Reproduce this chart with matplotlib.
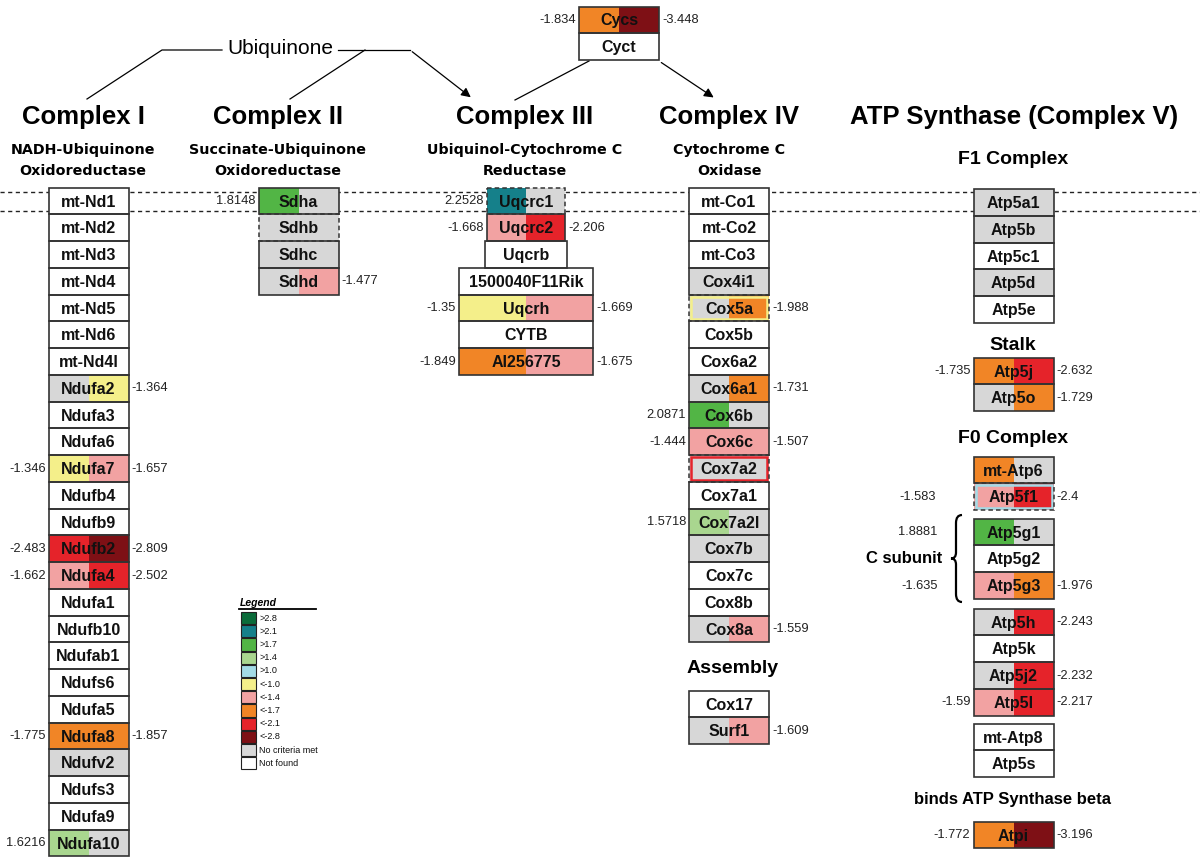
import matplotlib
matplotlib.use('Agg')
import matplotlib.pyplot as plt
from matplotlib.patches import Rectangle, PathPatch
from matplotlib.path import Path
from matplotlib import font_manager

# legend categories and colours
legend_labels = ['>2.8', '>2.1', '>1.7', '>1.4', '>1.0', '<-1.0', '<-1.4',
                 '<-1.7', '<-2.1', '<-2.8', 'No criteria met', 'Not found']
legend_colors = ['#0b6b3a', '#15808a', '#52b545', '#a9d68f', '#a3dbe6', '#f4ef8a',
                 '#f2a2a2', '#f18526', '#e5232a', '#7e1015', '#d7d7d7', '#ffffff']

NC = 'No criteria met'   # grey half
NF = None                # white half (not found)

# Complex I
c1_genes = ['mt-Nd1', 'mt-Nd2', 'mt-Nd3', 'mt-Nd4', 'mt-Nd5', 'mt-Nd6', 'mt-Nd4l',
            'Ndufa2', 'Ndufa3', 'Ndufa6', 'Ndufa7', 'Ndufb4', 'Ndufb9', 'Ndufb2',
            'Ndufa4', 'Ndufa1', 'Ndufb10', 'Ndufab1', 'Ndufs6', 'Ndufa5', 'Ndufa8',
            'Ndufv2', 'Ndufs3', 'Ndufa9', 'Ndufa10']
c1_left = [NF, NF, NF, NF, NF, NF, NF, NC, NF, NF, -1.346, NF, NF, -2.483,
           -1.662, NF, NF, NF, NF, NF, -1.775, NC, NF, NF, 1.6216]
c1_right = [NF, NF, NF, NF, NF, NF, NF, -1.364, NF, NF, -1.657, NF, NF, -2.809,
            -2.502, NF, NF, NF, NF, NF, -1.857, NC, NF, NF, NC]

# Complex II
c2_genes = ['Sdha', 'Sdhb', 'Sdhc', 'Sdhd']
c2_left = [1.8148, NC, NC, NC]
c2_right = [NC, NC, NC, -1.477]

# Complex III
c3_genes = ['Uqcrc1', 'Uqcrc2', 'Uqcrb', '1500040F11Rik', 'Uqcrh', 'CYTB', 'AI256775']
c3_left = [2.2528, -1.668, NF, NF, -1.35, NF, -1.849]
c3_right = [NC, -2.206, NF, NF, -1.669, NF, -1.675]

# Complex IV
c4_genes = ['mt-Co1', 'mt-Co2', 'mt-Co3', 'Cox4i1', 'Cox5a', 'Cox5b', 'Cox6a2',
            'Cox6a1', 'Cox6b', 'Cox6c', 'Cox7a2', 'Cox7a1', 'Cox7a2l', 'Cox7b',
            'Cox7c', 'Cox8b', 'Cox8a']
c4_left = [NF, NF, NF, NC, NC, NF, NF, NC, 2.0871, -1.444, NC, NF, 1.5718, NC,
           NF, NF, NC]
c4_right = [NF, NF, NF, NC, -1.988, NF, NF, -1.731, NC, -1.507, NC, NF, NC, NC,
            NF, NF, -1.559]

asm_genes = ['Cox17', 'Surf1']
asm_left = [NF, NC]
asm_right = [NF, -1.609]

# Complex V
f1_genes = ['Atp5a1', 'Atp5b', 'Atp5c1', 'Atp5d', 'Atp5e']
f1_left = [NC, NC, NF, NC, NF]
f1_right = [NC, NC, NF, NC, NF]

stalk_genes = ['Atp5j', 'Atp5o']
stalk_left = [-1.735, NC]
stalk_right = [-2.632, -1.729]

f0a_genes = ['mt-Atp6', 'Atp5f1']
f0a_left = ['<-1.7', -1.583]
f0a_right = [NC, -2.4]

csub_genes = ['Atp5g1', 'Atp5g2', 'Atp5g3']
csub_left = [1.8881, NF, -1.635]
csub_right = [NC, NF, -1.976]

f0b_genes = ['Atp5h', 'Atp5k', 'Atp5j2', 'Atp5l']
f0b_left = [NC, NF, NC, -1.59]
f0b_right = [-2.243, NF, -2.232, -2.217]

f0c_genes = ['mt-Atp8', 'Atp5s']
f0c_left = [NF, NF]
f0c_right = [NF, NF]

atpi_genes = ['Atpi']
atpi_left = [-1.772]
atpi_right = [-3.196]

cyc_genes = ['Cycs', 'Cyct']
cyc_left = [-1.834, NF]
cyc_right = [-3.448, NF]

# boxes drawn with a dashed outline and a coloured inner frame
special_borders = {'Sdhb': None, 'Uqcrc1': None, 'Cox5a': '#f4ef8a',
                   'Cox7a2': '#e5232a', 'Atp5f1': '#a3dbe6'}

ROW = 26.75
installed = set(f.name for f in font_manager.fontManager.ttflist)
SANS = 'Liberation Sans' if 'Liberation Sans' in installed else 'DejaVu Sans'
if 'Liberation Sans Narrow' in installed:
    NARROW = 'Liberation Sans Narrow'
    NARROW_SIZE = 14
else:
    NARROW = 'DejaVu Sans'
    NARROW_SIZE = 10.3


def half_color(v):
    if v is None:
        return legend_colors[-1]
    if isinstance(v, str):
        return legend_colors[legend_labels.index(v)]
    if v >= 2.8:
        return legend_colors[0]
    if v >= 2.1:
        return legend_colors[1]
    if v >= 1.7:
        return legend_colors[2]
    if v >= 1.4:
        return legend_colors[3]
    if v >= 1.0:
        return legend_colors[4]
    if v <= -2.8:
        return legend_colors[9]
    if v <= -2.1:
        return legend_colors[8]
    if v <= -1.7:
        return legend_colors[7]
    if v <= -1.4:
        return legend_colors[6]
    return legend_colors[5]


def draw_group(ax, genes, left, right, xc, y0, width=80, widths=None, gap=3):
    for i, g in enumerate(genes):
        w = widths[i] if widths else width
        yc = y0 + i * ROW
        x0 = xc - w / 2
        top = yc - ROW / 2
        ax.add_patch(Rectangle((x0, top), w / 2, ROW, fc=half_color(left[i]), ec='none', zorder=3))
        ax.add_patch(Rectangle((xc, top), w / 2, ROW, fc=half_color(right[i]), ec='none', zorder=3))
        if g in special_borders:
            ax.add_patch(Rectangle((x0, top), w, ROW, fc='none', ec='#333333', lw=1.1,
                                   ls=(0, (3, 2)), zorder=5))
            if special_borders[g]:
                ax.add_patch(Rectangle((x0 + 2, top + 2), w - 4, ROW - 4, fc='none',
                                       ec=special_borders[g], lw=1.8, zorder=4))
        else:
            ax.add_patch(Rectangle((x0, top), w, ROW, fc='none', ec='#333333', lw=1.2, zorder=5))
        ax.text(xc, yc + 1, g, ha='center', va='center', fontsize=11.5, fontweight='bold',
                family=SANS, color='#111111', zorder=6)
        if isinstance(left[i], float):
            ax.text(x0 - gap, yc, f'{left[i]:g}', ha='right', va='center', fontsize=9.3,
                    family=SANS, color='#222222', zorder=6)
        if isinstance(right[i], float):
            ax.text(x0 + w + 3, yc, f'{right[i]:g}', ha='left', va='center', fontsize=9.3,
                    family=SANS, color='#222222', zorder=6)


def draw_brace(ax, x, y_top, y_bot):
    ym = (y_top + y_bot) / 2
    verts = [(x + 6, y_top), (x, y_top), (x, y_top + 8),
             (x, ym - 6), (x, ym), (x - 5, ym),
             (x, ym), (x, ym + 6),
             (x, y_bot - 8), (x, y_bot), (x + 6, y_bot)]
    codes = [Path.MOVETO, Path.CURVE3, Path.CURVE3,
             Path.LINETO, Path.CURVE3, Path.CURVE3,
             Path.CURVE3, Path.CURVE3,
             Path.LINETO, Path.CURVE3, Path.CURVE3]
    ax.add_patch(PathPatch(Path(verts, codes), fc='none', ec='black', lw=1.6, zorder=4))


def main():
    fig = plt.figure(figsize=(12, 8.63), dpi=100)
    ax = fig.add_axes([0, 0, 1, 1])
    ax.set_xlim(0, 1200)
    ax.set_ylim(863, 0)
    ax.axis('off')

    # membrane dashed lines
    for y in (192, 211):
        ax.plot([0, 1200], [y, y], color='#222222', lw=1, ls=(0, (3, 2.5)), zorder=1)

    # titles
    titles = [('Complex I', 83, 'NADH-Ubiquinone', 'Oxidoreductase'),
              ('Complex II', 278, 'Succinate-Ubiquinone', 'Oxidoreductase'),
              ('Complex III', 525, 'Ubiquinol-Cytochrome C', 'Reductase'),
              ('Complex IV', 729, 'Cytochrome C', 'Oxidase')]
    for t, x, sub1, sub2 in titles:
        ax.text(x, 117, t, ha='center', va='center', fontsize=18.5, fontweight='bold', family=SANS)
        ax.text(x, 150, sub1, ha='center', va='center', fontsize=NARROW_SIZE, fontweight='bold',
                family=NARROW)
        ax.text(x, 171, sub2, ha='center', va='center', fontsize=NARROW_SIZE, fontweight='bold',
                family=NARROW)
    ax.text(1014, 117, 'ATP Synthase (Complex V)', ha='center', va='center', fontsize=18.5,
            fontweight='bold', family=SANS)
    for t, x, y in [('F1 Complex', 1013, 160), ('Stalk', 1013, 345), ('F0 Complex', 1013, 438),
                    ('Assembly', 733, 668)]:
        ax.text(x, y, t, ha='center', va='center', fontsize=14, fontweight='bold', family=SANS)
    ax.text(1013, 799, 'binds ATP Synthase beta', ha='center', va='center', fontsize=12,
            fontweight='bold', family=SANS)
    ax.text(904, 558, 'C subunit', ha='center', va='center', fontsize=12, fontweight='bold',
            family=SANS)
    draw_brace(ax, 956, 515, 602)

    # ubiquinone / cytochrome c connections
    ax.text(280, 49, 'Ubiquinone', ha='center', va='center', fontsize=15, family=SANS)
    ax.plot([87, 162, 222], [99, 50, 50], color='black', lw=0.9)
    ax.plot([290, 365], [99, 50], color='black', lw=0.9)
    ax.plot([338, 410], [50, 50], color='black', lw=0.9)
    ax.annotate('', xy=(473, 99), xytext=(410, 50),
                arrowprops=dict(arrowstyle='-|>', color='black', lw=0.9, mutation_scale=14))
    ax.plot([589, 515], [61, 100], color='black', lw=0.9)
    ax.annotate('', xy=(716, 99), xytext=(659, 61),
                arrowprops=dict(arrowstyle='-|>', color='black', lw=0.9, mutation_scale=14))

    # gene boxes
    draw_group(ax, c1_genes, c1_left, c1_right, 88.5, 201)
    draw_group(ax, c2_genes, c2_left, c2_right, 298.5, 201)
    draw_group(ax, c3_genes, c3_left, c3_right, 526, 201,
               widths=[78, 78, 82, 134, 134, 134, 134])
    draw_group(ax, c4_genes, c4_left, c4_right, 729, 201)
    draw_group(ax, asm_genes, asm_left, asm_right, 729, 704)
    draw_group(ax, f1_genes, f1_left, f1_right, 1013.5, 202.5)
    draw_group(ax, stalk_genes, stalk_left, stalk_right, 1013.5, 371)
    draw_group(ax, f0a_genes, f0a_left, f0a_right, 1013.5, 470, gap=38)
    draw_group(ax, csub_genes, csub_left, csub_right, 1013.5, 532, gap=36)
    draw_group(ax, f0b_genes, f0b_left, f0b_right, 1013.5, 622)
    draw_group(ax, f0c_genes, f0c_left, f0c_right, 1013.5, 737)
    draw_group(ax, atpi_genes, atpi_left, atpi_right, 1013.5, 835)
    draw_group(ax, cyc_genes, cyc_left, cyc_right, 619, 20)

    # legend
    ax.text(240, 603, 'Legend', ha='left', va='center', fontsize=7.5, style='italic',
            fontweight='bold', family=SANS)
    ax.plot([239, 316], [609, 609], color='black', lw=1.3)
    step = 13.2
    for i, (lab, col) in enumerate(zip(legend_labels, legend_colors)):
        y = 612 + i * step
        ax.add_patch(Rectangle((241, y), 15, step - 1, fc=col, ec='#222222', lw=0.8))
        ax.text(259, y + step / 2 - 0.5, lab, ha='left', va='center', fontsize=6.5,
                family=SANS, color='#111111')

    fig.savefig('out.png', dpi=100)


main()
